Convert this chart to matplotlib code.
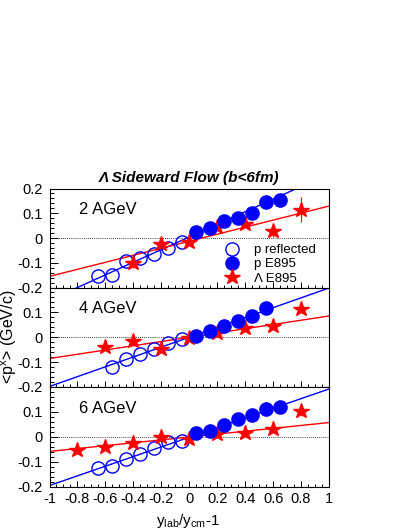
import numpy as np
import matplotlib
matplotlib.use("Agg")
import matplotlib.pyplot as plt
from matplotlib.ticker import MultipleLocator, FixedLocator

plt.rcParams['font.family'] = ['Liberation Sans', 'DejaVu Sans']
plt.rcParams['mathtext.fontset'] = 'custom'
plt.rcParams['mathtext.rm'] = 'Liberation Sans'
plt.rcParams['mathtext.it'] = 'Liberation Sans:italic'

# ---------------- data ----------------
energies = ["2 AGeV", "4 AGeV", "6 AGeV"]

# p reflected (open circles)
refl_x = [
    [-0.65, -0.55, -0.45, -0.35, -0.25, -0.15, -0.05],
    [-0.55, -0.45, -0.35, -0.25, -0.15, -0.05],
    [-0.65, -0.55, -0.45, -0.35, -0.25, -0.15, -0.05],
]
refl_y = [
    [-0.155, -0.149, -0.093, -0.080, -0.066, -0.039, -0.016],
    [-0.119, -0.089, -0.068, -0.049, -0.024, -0.008],
    [-0.127, -0.116, -0.088, -0.068, -0.045, -0.021, -0.016],
]

# p E895 (filled circles)
p_x = [
    [0.05, 0.15, 0.25, 0.35, 0.45, 0.55, 0.65],
    [0.05, 0.15, 0.25, 0.35, 0.45, 0.55],
    [0.05, 0.15, 0.25, 0.35, 0.45, 0.55, 0.65],
]
p_y = [
    [0.023, 0.040, 0.068, 0.081, 0.101, 0.146, 0.155],
    [0.007, 0.024, 0.046, 0.066, 0.084, 0.118],
    [0.015, 0.025, 0.047, 0.071, 0.088, 0.112, 0.121],
]

# Lambda E895 (stars)
lam_x = [
    [-0.4, -0.2, 0.0, 0.2, 0.4, 0.6, 0.8],
    [-0.6, -0.4, -0.2, 0.0, 0.2, 0.4, 0.6, 0.8],
    [-0.8, -0.6, -0.4, -0.2, 0.0, 0.2, 0.4, 0.6, 0.8],
]
lam_y = [
    [-0.101, -0.026, -0.016, 0.045, 0.058, 0.028, 0.115],
    [-0.041, -0.014, -0.049, -0.004, 0.016, 0.036, 0.046, 0.115],
    [-0.055, -0.040, -0.024, -0.003, -0.009, 0.011, 0.017, 0.033, 0.104],
]
lam_err = [
    [0.02, 0.01, 0.01, 0.01, 0.01, 0.025, 0.05],
    [0.01, 0.01, 0.01, 0.005, 0.01, 0.01, 0.01, 0.015],
    [0.015, 0.01, 0.01, 0.01, 0.01, 0.01, 0.01, 0.01, 0.02],
]

# linear fits: slope, intercept
p_fit = [(0.255, 0.004), (0.198, 0.0), (0.194, -0.002)]
lam_fit = [(0.142, -0.013), (0.0855, 0.0), (0.058, -0.001)]

# ---------------- figure ----------------
fig = plt.figure(figsize=(4.09, 5.29), dpi=100)
W, H = 409.0, 529.0
left = 49.5 / W
width = 279.5 / W
tops = [188.5, 287.5, 387.0]
bots = [287.5, 387.0, 486.5]

blue = (0, 0, 1)
red = (1, 0, 0)
xs = np.array([-1.0, 1.0])

axes = []
for i in range(3):
    ax = fig.add_axes([left, 1 - bots[i] / H, width, (bots[i] - tops[i]) / H])
    axes.append(ax)
    ax.set_xlim(-1, 1)
    ax.set_ylim(-0.2, 0.2)
    ax.axhline(0, color='black', lw=0.6, ls=(0, (1, 1.5)), zorder=1)

    s, b = p_fit[i]
    ax.plot(xs, s * xs + b, color=blue, lw=1.0, zorder=2)
    s, b = lam_fit[i]
    ax.plot(xs, s * xs + b, color=red, lw=1.0, zorder=2)

    ax.plot(refl_x[i], refl_y[i], 'o', ms=9.5, mfc='none', mec=blue, mew=1.0,
            zorder=3, label='p reflected')
    ax.plot(p_x[i], p_y[i], 'o', ms=9.5, mfc=blue, mec=blue, zorder=5,
            label='p E895')
    ax.errorbar(lam_x[i], lam_y[i], yerr=lam_err[i], fmt='none', ecolor=red,
                elinewidth=0.8, capsize=0, zorder=4)
    ax.plot(lam_x[i], lam_y[i], '*', ms=11.5, color=red, mec=red, zorder=4,
            label='Λ E895')

    ax.text(0.105, 0.785, energies[i], transform=ax.transAxes, fontsize=12,
            ha='left', va='center')

    ax.xaxis.set_major_locator(MultipleLocator(0.2))
    ax.xaxis.set_minor_locator(MultipleLocator(0.05))
    if i == 0:
        ax.yaxis.set_major_locator(FixedLocator([-0.2, -0.1, 0, 0.1, 0.2]))
    else:
        ax.yaxis.set_major_locator(FixedLocator([-0.2, -0.1, 0, 0.1]))
    ax.yaxis.set_minor_locator(MultipleLocator(0.02))
    ax.yaxis.set_major_formatter(matplotlib.ticker.FuncFormatter(
        lambda v, p: '0' if abs(v) < 1e-9 else ('%.1f' % v)))
    ax.xaxis.set_major_formatter(matplotlib.ticker.FuncFormatter(
        lambda v, p: '0' if abs(v) < 1e-9 else ('%g' % round(v, 1))))
    ax.tick_params(axis='both', which='both', direction='in', top=False,
                   right=False, labelsize=10.5)
    ax.tick_params(axis='y', which='major', length=5.5, width=0.7, pad=5)
    ax.tick_params(axis='y', which='minor', length=2.8, width=0.7)
    ax.tick_params(axis='x', which='major', length=4.5, width=0.7, pad=4)
    ax.tick_params(axis='x', which='minor', length=2.5, width=0.7)
    if i < 2:
        ax.tick_params(axis='x', labelbottom=False)
    for sp in ax.spines.values():
        sp.set_linewidth(0.8)

axes[0].legend(loc='upper left', bbox_to_anchor=(0.626, 0.44), frameon=False,
               fontsize=9.5, handlelength=1.2, handletextpad=1.07,
               labelspacing=0.15, borderaxespad=0, borderpad=0)

fig.text(189 / W, 1 - 178 / H, 'Λ Sideward Flow (b<6fm)', fontsize=11,
         fontweight='bold', fontstyle='italic', ha='center', va='center')
fig.text(9 / W, 1 - 337 / H, r'<p$^{\mathrm{x}}$> (GeV/c)', fontsize=11.5,
         rotation=90, ha='center', va='center')
fig.text(188 / W, 1 - 521 / H, r'y$_{\mathrm{lab}}$/y$_{\mathrm{cm}}$-1',
         fontsize=11, ha='center', va='center')

fig.savefig('out.png', dpi=100)
